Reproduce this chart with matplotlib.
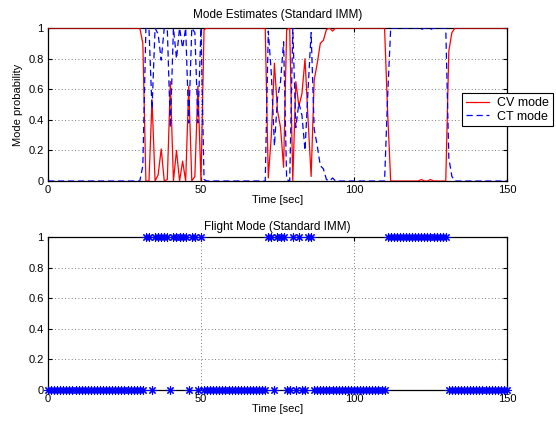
import numpy as np
import matplotlib.pyplot as plt

plt.rcParams['font.family'] = ['Liberation Sans', 'DejaVu Sans']
plt.rcParams['font.size'] = 8

# time in seconds, one sample per second
time = np.arange(0, 151)

# probability of the CV mode
cv_prob = [1.0] * 30 + [
    1.0, 0.9, 0.0, 0.0, 0.53, 0.0, 0.04, 0.21, 0.0, 0.01,      # 30-39
    0.65, 0.0, 0.2, 0.0, 0.13, 0.0, 0.62, 0.0, 0.03, 0.62,     # 40-49
    0.0, 0.99] + [1.0] * 19 + [                                # 50-70
    1.0, 0.02, 0.3, 0.77, 0.46, 0.35, 0.09, 0.99, 1.0,         # 71-79
    0.0, 0.65, 0.49, 0.57, 0.8, 0.4, 0.03, 0.66, 0.77, 0.9,    # 80-89
    0.92, 0.99, 1.0, 0.98] + [1.0] * 17 + [                    # 90-110
    0.45] + [0.0] * 10 + [0.01, 0.0, 0.0, 0.01, 0.0, 0.0, 0.0, 0.0, 0.0] + [  # 111-130
    0.85, 0.97] + [1.0] * 18                                   # 131-150

# probability of the CT mode
ct_prob = [0.0] * 30 + [
    0.0, 0.1, 1.0, 1.0, 0.47, 1.0, 0.96, 0.79, 1.0, 0.99,
    0.35, 1.0, 0.8, 1.0, 0.87, 1.0, 0.38, 1.0, 0.97, 0.38,
    1.0, 0.01] + [0.0] * 19 + [
    0.0, 0.98, 0.7, 0.23, 0.54, 0.65, 0.91, 0.01, 0.0,
    1.0, 0.35, 0.51, 0.43, 0.2, 0.6, 0.97, 0.34, 0.23, 0.1,
    0.08, 0.01, 0.0, 0.02] + [0.0] * 17 + [
    0.55] + [1.0] * 10 + [0.99, 1.0, 1.0, 0.99, 1.0, 1.0, 1.0, 1.0, 1.0] + [
    0.15, 0.03] + [0.0] * 18

# estimated flight mode (0 = CV, 1 = CT)
flight_mode = [0] * 32 + [
    1, 1, 0, 1, 1, 1, 1, 1,           # 32-39
    0, 1, 1, 1, 1, 1, 0, 1, 1, 0,     # 40-49
    1] + [0] * 21 + [                 # 50-71
    1, 1, 0, 1, 1, 1, 0, 0,           # 72-79
    1, 0, 1, 0, 0, 1, 1] + [0] * 24 + [  # 80-110
    1] * 20 + [0] * 20                # 111-150

fig = plt.figure(figsize=(5.56, 4.21), dpi=100)
ax1 = fig.add_axes([0.0863, 0.570, 0.8255, 0.3634])
ax2 = fig.add_axes([0.0863, 0.0736, 0.8255, 0.3634])

ax1.plot(time, cv_prob, color='r', lw=0.9, label='CV mode', zorder=3)
ax1.plot(time, ct_prob, color='b', lw=0.9, ls=(0, (5, 3)), label='CT mode', zorder=3)
ax1.set_title('Mode Estimates (Standard IMM)', pad=7, fontsize=8.5)
ax1.set_ylabel('Mode probability', fontsize=8)
leg = ax1.legend(loc='upper left', bbox_to_anchor=(0.903, 0.573), borderaxespad=0,
                 fancybox=False, framealpha=1, edgecolor='k', handlelength=1.85,
                 borderpad=0.3, labelspacing=0.12, handletextpad=0.65, fontsize=9)
leg.get_frame().set_linewidth(0.8)

ax2.plot(time, flight_mode, ls='none', marker=(8, 2, 0), color='b', markersize=6,
         markeredgewidth=0.8, zorder=3, clip_on=False)
ax2.set_title('Flight Mode (Standard IMM)', pad=5, fontsize=8.5)

for ax in (ax1, ax2):
    ax.set_xlim(0, 150)
    ax.set_ylim(0, 1)
    ax.set_xticks([0, 50, 100, 150])
    ax.set_yticks([0, 0.2, 0.4, 0.6, 0.8, 1])
    ax.set_yticklabels(['0', '0.2', '0.4', '0.6', '0.8', '1'])
    ax.set_xlabel('Time [sec]', labelpad=0, fontsize=8)
    ax.grid(True, ls=(0, (1, 3)), color='0.3', lw=0.6)
    ax.tick_params(direction='in', top=True, right=True, length=3, pad=3)
    for s in ax.spines.values():
        s.set_linewidth(0.9)

fig.savefig('out.png', dpi=100)
